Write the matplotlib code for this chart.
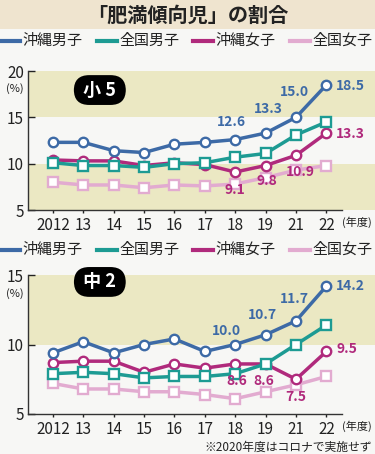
import matplotlib.pyplot as plt
from matplotlib.lines import Line2D
from matplotlib.patches import Rectangle

plt.rcParams['font.family'] = ['Noto Sans CJK JP', 'DejaVu Sans']

years = ['2012', '13', '14', '15', '16', '17', '18', '19', '21', '22']
names = ['沖縄男子', '全国男子', '沖縄女子', '全国女子']
colors = ['#3d6aa6', '#1d9b93', '#b02a7c', '#e2abd0']
markers = ['o', 's', 'o', 's']

# 小5
g5_okinawa_boys = [12.3, 12.3, 11.4, 11.2, 12.1, 12.3, 12.6, 13.3, 15.0, 18.5]
g5_national_boys = [10.1, 9.8, 9.8, 9.6, 10.0, 10.1, 10.7, 11.1, 13.1, 14.5]
g5_okinawa_girls = [10.4, 10.3, 10.3, 9.8, 10.1, 9.9, 9.1, 9.8, 10.9, 13.3]
g5_national_girls = [8.0, 7.7, 7.7, 7.4, 7.7, 7.6, 7.8, 8.5, 9.3, 9.8]

# 中2
g8_okinawa_boys = [9.4, 10.2, 9.4, 10.0, 10.4, 9.5, 10.0, 10.7, 11.7, 14.2]
g8_national_boys = [7.9, 8.0, 7.9, 7.6, 7.7, 7.7, 7.9, 8.6, 10.0, 11.4]
g8_okinawa_girls = [8.7, 8.8, 8.8, 8.0, 8.6, 8.3, 8.6, 8.6, 7.5, 9.5]
g8_national_girls = [7.2, 6.8, 6.8, 6.6, 6.6, 6.4, 6.1, 6.6, 7.1, 7.7]

W, H = 375, 454
fig = plt.figure(figsize=(3.75, 4.54), dpi=100)
fig.patch.set_facecolor('#f7f7f5')

TAN = '#ebe8c3'


def fx(px):
    return px / W


def fy(py):
    return 1 - py / H


# header
fig.add_artist(Rectangle((0, fy(29)), 1, 29 / H, transform=fig.transFigure,
                         facecolor='#efe4cf', edgecolor='none', zorder=0))
fig.text(0.5, fy(15), '「肥満傾向児」の割合', ha='center', va='center',
         fontsize=14.5, fontweight='bold', color='#222222')


def legend_row(py):
    starts = [0, 97, 193, 290]
    for x0, name, c in zip(starts, names, colors):
        fig.add_artist(Line2D([fx(x0), fx(x0 + 20)], [fy(py), fy(py)],
                              transform=fig.transFigure, color=c, lw=3))
        fig.text(fx(x0 + 22), fy(py), name, ha='left', va='center',
                 fontsize=10.8, color='#222222')


legend_row(41)
legend_row(250)


def panel(rect, series, ylim, yticks, bands, badge, badge_y, pct_y, labels):
    ax = fig.add_axes(rect)
    ax.set_facecolor('none')
    x = list(range(len(years)))
    for lo, hi in bands:
        ax.axhspan(lo, hi, color=TAN, lw=0, zorder=0)
    for vals, c, m in zip(series[::-1], colors[::-1], markers[::-1]):
        ax.plot(x, vals, color=c, lw=2.5, marker=m, ms=6.8, mfc='white',
                mec=c, mew=1.7, zorder=3, clip_on=False)
    ax.set_xlim(-0.82, 10.6)
    ax.set_ylim(*ylim)
    ax.set_yticks(yticks)
    ax.set_yticklabels([str(t) for t in yticks])
    ax.set_xticks(x)
    ax.set_xticklabels(years)
    ax.tick_params(axis='both', labelsize=11, colors='#222222', width=1)
    ax.tick_params(axis='y', direction='in', length=5, pad=3)
    ax.tick_params(axis='x', direction='out', length=2, pad=3)
    for s in ['top', 'right']:
        ax.spines[s].set_visible(False)
    ax.spines['bottom'].set_bounds(-0.82, 9.5)
    for s in ['left', 'bottom']:
        ax.spines[s].set_color('#333333')
        ax.spines[s].set_linewidth(1)
    ax.text(9.52, -0.085, '(年度)', transform=ax.get_xaxis_transform(),
            ha='left', va='center', fontsize=8, color='#222222')
    ax.text(-0.037, pct_y, '(%)', transform=ax.transAxes, ha='center',
            va='center', fontsize=8, color='#222222')
    ax.text(0.207, badge_y, badge, transform=ax.transAxes, ha='center',
            va='center', fontsize=13, fontweight='bold', color='white',
            bbox=dict(boxstyle='round,pad=0.3,rounding_size=0.85',
                      fc='black', ec='none'), zorder=5)
    for si, idx, dx, dy in labels:
        v = series[si][idx]
        ha = 'left' if dx > 6 else 'center'
        ax.annotate(f'{v:.1f}', (idx, v), xytext=(dx, dy),
                    textcoords='offset points', ha=ha, va='center',
                    fontsize=10, fontweight='bold', color=colors[si], zorder=6)
    return ax


top = panel([fx(28), fy(210), 1 - fx(28), (210 - 71) / H],
            [g5_okinawa_boys, g5_national_boys, g5_okinawa_girls, g5_national_girls],
            (5, 20), [5, 10, 15, 20], [(15, 20), (5, 10)], ' 小 5 ', 0.863, 0.875,
            [(0, 6, -3, 13), (0, 7, 2, 17), (0, 8, -1, 18), (0, 9, 7, -1),
             (2, 6, 0, -13), (2, 7, 1, -11), (2, 8, 3, -12), (2, 9, 7, -1)])

bottom = panel([fx(28), fy(414), 1 - fx(28), (414 - 275) / H],
               [g8_okinawa_boys, g8_national_boys, g8_okinawa_girls, g8_national_girls],
               (5, 15), [5, 10, 15], [(10, 15)], ' 中 2 ', 0.95, 0.87,
               [(0, 6, -6, 10), (0, 7, -2, 14), (0, 8, -1, 16), (0, 9, 7, 0),
                (2, 6, 1, -12), (2, 7, -1, -12), (2, 8, 0, -13), (2, 9, 7, 2)])

fig.text(fx(372), fy(447), '※2020年度はコロナで実施せず', ha='right',
         va='center', fontsize=8.5, color='#222222')

fig.savefig('out.png', dpi=100, facecolor=fig.get_facecolor())
